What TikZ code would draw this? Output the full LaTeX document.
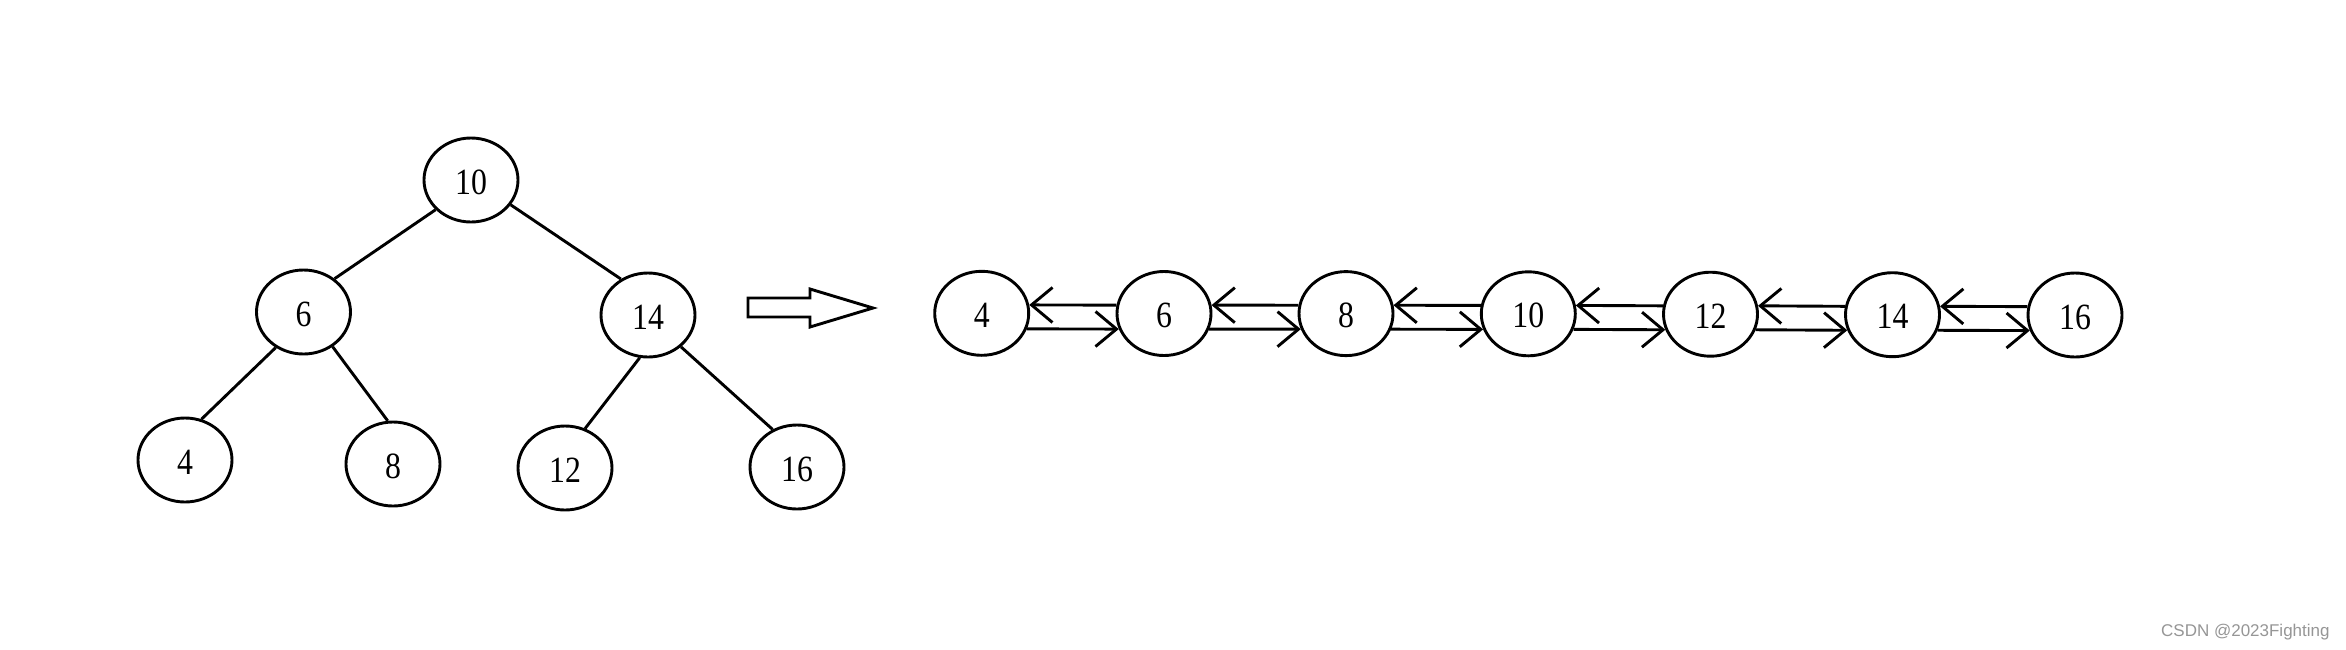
\documentclass[tikz,border=0pt]{standalone}
\usepackage{fontspec}
\setmainfont[FakeStretch=0.86]{Liberation Serif}
\newfontfamily\wmfont{Liberation Sans}
\usetikzlibrary{arrows.meta,shapes.geometric}
\definecolor{wmgray}{RGB}{150,150,150}
\begin{document}
\begin{tikzpicture}[x=0.5pt,y=-0.5pt,
  nd/.style={draw, ellipse, line width=1.45pt, minimum width=47pt, minimum height=42pt, inner sep=0pt, text height=14pt, text depth=0pt, font=\fontsize{18.5pt}{20pt}\selectfont},
  edge/.style={line width=1.45pt},
  link/.style={line width=1.45pt, -{Straight Barb[length=10.5pt,width=17.5pt,line width=1.45pt]}},
  bigarrow/.style={line width=1.45pt, line join=miter},
]
\fill[white] (0,0) rectangle (2346,649);
\useasboundingbox (0,0) rectangle (2346,649);

% tree
\node[nd] (t10) at (471,180) {10};
\node[nd] (t6) at (303.5,312) {6};
\node[nd] (t14) at (648,315) {14};
\node[nd] (t4) at (185,460) {4};
\node[nd] (t8) at (393,464) {8};
\node[nd] (t12) at (565,468) {12};
\node[nd] (t16) at (797,467) {16};

\draw[edge] (t10.220) -- (t6.47);
\draw[edge] (t10.-32) -- (t14.127);
\draw[edge] (t6.232) -- (t4.68);
\draw[edge] (t6.-50) -- (t8.97);
\draw[edge] (t14.259) -- (t12.63);
\draw[edge] (t14.-44) -- (t16.123);

% big arrow
\draw[bigarrow] (748,298) -- (810,298) -- (810,289) -- (873,308) -- (810,327) -- (810,317) -- (748,317) -- cycle;

% list
\node[nd] (l4) at (981.7,313.3) {4};
\node[nd] (l6) at (1164,313.5) {6};
\node[nd] (l8) at (1346,313.6) {8};
\node[nd] (l10) at (1528.3,313.8) {10};
\node[nd] (l12) at (1710.5,314.2) {12};
\node[nd] (l14) at (1892.5,314.7) {14};
\node[nd] (l16) at (2075,315) {16};

\foreach \a/\b in {4/6,6/8,8/10,10/12,12/14,14/16} {
  \draw[link] (l\b.170) -- (l\a.10);
  \draw[link] (l\a.-19) -- (l\b.199);
}

% watermark
\node[anchor=base east, inner sep=0pt, font=\wmfont\fontsize{8.5pt}{10pt}\selectfont, text=wmgray] (wm) at (2330,636) {CSDN @2023Fighting};
\end{tikzpicture}
\end{document}
